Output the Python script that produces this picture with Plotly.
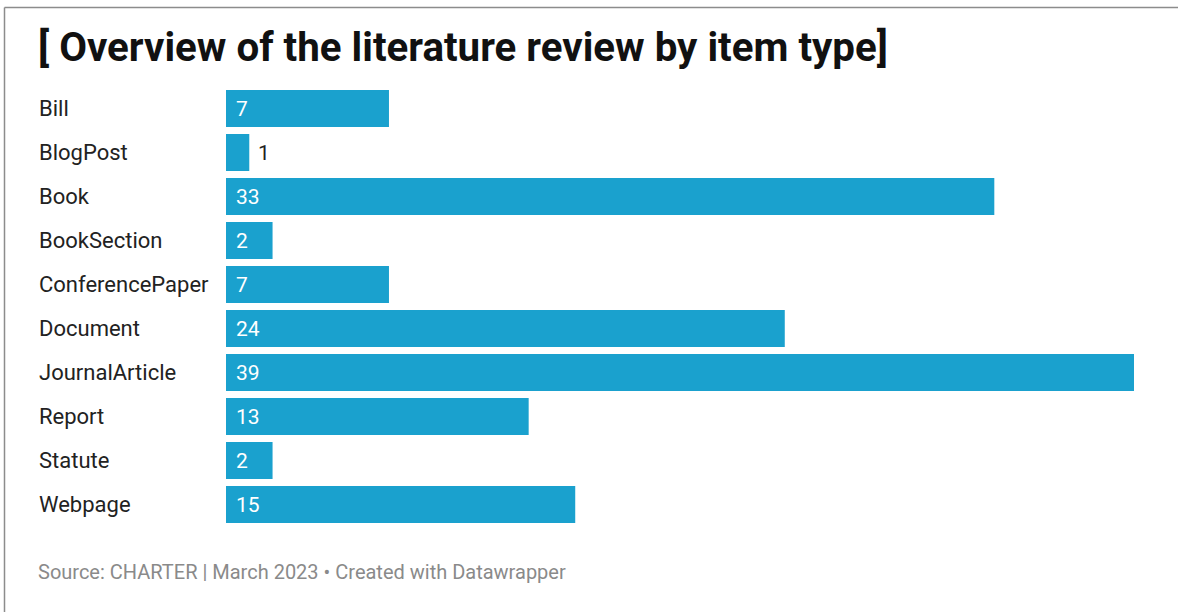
import plotly.graph_objects as go

# Item types and how many items of each type were reviewed
categories = ["Bill", "BlogPost", "Book", "BookSection", "ConferencePaper",
              "Document", "JournalArticle", "Report", "Statute", "Webpage"]
counts = [7, 1, 33, 2, 7, 24, 39, 13, 2, 15]

title_text = "[ Overview of the literature review by item type]"
footer_text = "Source: CHARTER | March 2023 • Created with Datawrapper"

W, H = 1178, 612
BAR_COLOR = "#1aa1ce"
FONT = "Roboto, Arial, sans-serif"

fig = go.Figure(
    go.Bar(
        x=counts,
        y=categories,
        orientation="h",
        marker=dict(color=BAR_COLOR, line=dict(width=0)),
        width=0.84,
        hoverinfo="skip",
    )
)

annotations = []
# Category labels, left aligned at the page margin
for cat in categories:
    annotations.append(dict(
        x=37 / W, xref="paper", y=cat, yref="y",
        text=cat, showarrow=False, xanchor="left", yanchor="middle",
        font=dict(family=FONT, size=22, color="#222222"),
    ))
# Value labels: inside the bar in white, or just past it when the bar is too short
for cat, v in zip(categories, counts):
    inside = v >= 2
    annotations.append(dict(
        x=0 if inside else v, xref="x", y=cat, yref="y",
        text=str(v), showarrow=False, xanchor="left", yanchor="middle",
        xshift=8 if inside else 7,
        font=dict(family=FONT, size=21, color="#ffffff" if inside else "#222222"),
    ))
# Title and footer
annotations.append(dict(
    x=36 / W, xref="paper", y=1 - 48 / H, yref="paper",
    text="<b>" + title_text + "</b>", showarrow=False,
    xanchor="left", yanchor="middle",
    font=dict(family=FONT, size=40.3, color="#111111"),
))
annotations.append(dict(
    x=36 / W, xref="paper", y=1 - 572 / H, yref="paper",
    text=footer_text, showarrow=False, xanchor="left", yanchor="middle",
    font=dict(family=FONT, size=20, color="#8a8a8a"),
))

# Frame lines along the top and left edges
shapes = [
    dict(type="line", xref="paper", yref="paper", x0=4.5 / W, x1=1, y0=1 - 7.5 / H, y1=1 - 7.5 / H,
         line=dict(color="#8c8c8c", width=1.5)),
    dict(type="line", xref="paper", yref="paper", x0=4.5 / W, x1=4.5 / W, y0=0, y1=1 - 7.5 / H,
         line=dict(color="#8c8c8c", width=1.5)),
]

fig.update_layout(
    width=W, height=H,
    margin=dict(l=0, r=0, t=0, b=0),
    paper_bgcolor="white", plot_bgcolor="white",
    showlegend=False,
    xaxis=dict(domain=[226 / W, 1134 / W], range=[0, 39], visible=False, fixedrange=True),
    yaxis=dict(domain=[(H - 526.5) / H, (H - 86.5) / H], autorange="reversed",
               categoryorder="array", categoryarray=categories,
               visible=False, fixedrange=True),
    annotations=annotations,
    shapes=shapes,
    bargap=0.16,
)

fig.write_html("out.html", config={"displayModeBar": False})
